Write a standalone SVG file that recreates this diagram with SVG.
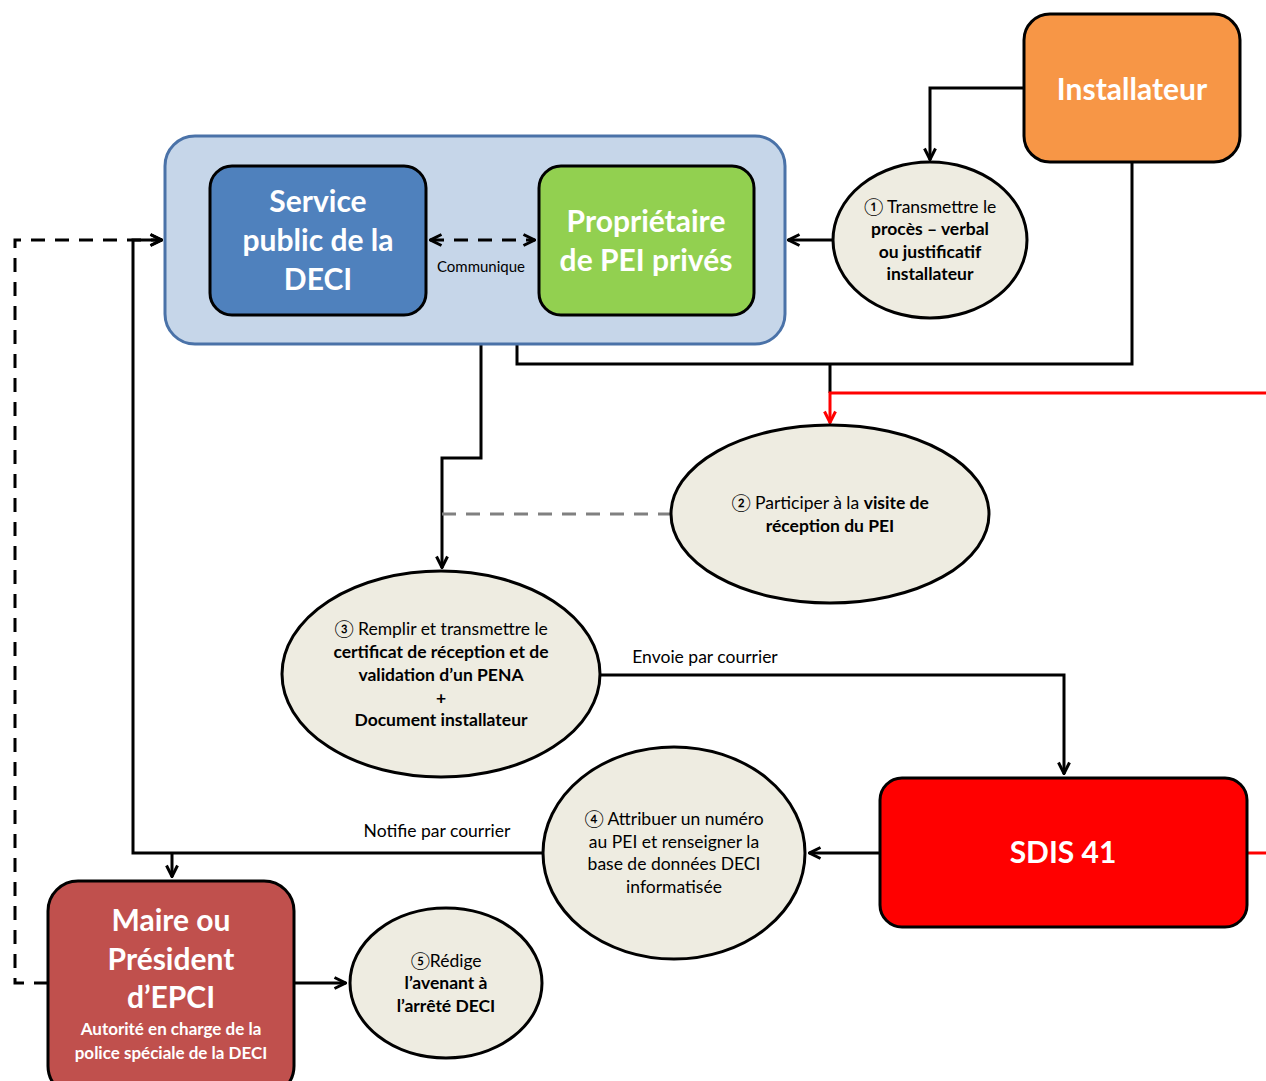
<svg xmlns="http://www.w3.org/2000/svg" width="1266" height="1081" viewBox="0 0 1266 1081">
<defs>
<marker id="ah" viewBox="0 0 14 14" refX="13" refY="7" markerWidth="14" markerHeight="14" markerUnits="userSpaceOnUse" orient="auto">
<path d="M1.5,1.5 L12.5,7 L1.5,12.5" fill="none" stroke="#000" stroke-width="3"/>
</marker>
<marker id="ahs" viewBox="0 0 14 14" refX="1" refY="7" markerWidth="14" markerHeight="14" markerUnits="userSpaceOnUse" orient="auto">
<path d="M12.5,1.5 L1.5,7 L12.5,12.5" fill="none" stroke="#000" stroke-width="3"/>
</marker>
<marker id="ahr" viewBox="0 0 14 14" refX="13" refY="7" markerWidth="14" markerHeight="14" markerUnits="userSpaceOnUse" orient="auto">
<path d="M1.5,1.5 L12.5,7 L1.5,12.5" fill="none" stroke="#ff0000" stroke-width="3"/>
</marker>
</defs>
<style>
text{font-family:Lato,"Open Sans","Liberation Sans",sans-serif;text-anchor:middle}
.t{fill:#fff;font-weight:bold;font-size:30px}
.s{fill:#fff;font-weight:bold;font-size:17px}
.e{fill:#000;font-size:17.5px}
.b{font-weight:bold}
.lbl{fill:#000;font-size:17.5px}
.box{stroke:#000;stroke-width:3}
.ell{fill:#eeece1;stroke:#000;stroke-width:3}
.c{fill:none;stroke:#000;stroke-width:3}
.cd{fill:none;stroke:#000;stroke-width:3;stroke-dasharray:14,10}
.cr{fill:none;stroke:#ff0000;stroke-width:3}
</style>
<rect width="1266" height="1081" fill="#fff"/>

<g id="connectors">
<path class="c" d="M1024,88 H930 V160" marker-end="url(#ah)"/>
<path class="c" d="M1132,162 V364 H517 V344"/>
<path class="c" d="M830,364 V393"/>
<path class="cr" d="M1266,393 H830 V423" marker-end="url(#ahr)"/>
<path class="c" d="M833,240 H788" marker-end="url(#ah)"/>
<path class="c" d="M481,344 V458 H442 V568" marker-end="url(#ah)"/>
<path d="M442,514 H672" fill="none" stroke="#808080" stroke-width="3" stroke-dasharray="14,10"/>
<path class="c" d="M600,675 H1064 V774" marker-end="url(#ah)"/>
<path class="c" d="M880,853 H809" marker-end="url(#ah)"/>
<path class="c" d="M543,853 H133 V240 H162" marker-end="url(#ah)"/>
<path class="c" d="M172,853 V877" marker-end="url(#ah)"/>
<path class="cd" d="M48,983 H15 V240 H162" marker-end="url(#ah)"/>
<path class="c" d="M294,983 H346" marker-end="url(#ah)"/>
<path class="cr" d="M1247,853 H1266"/>
<text class="lbl" x="705" y="663">Envoie par courrier</text>
<text class="lbl" x="437" y="837">Notifie par courrier</text>
</g>

<g id="container">
<rect x="165" y="136" width="620" height="208" rx="30" fill="#c6d6e9" stroke="#4a72a8" stroke-width="3"/>
</g>

<g id="communique">
<path class="cd" d="M430,240 H535" marker-start="url(#ahs)" marker-end="url(#ah)"/>
<text x="481" y="272" style="font-size:15px;fill:#000">Communique</text>
</g>

<g id="service">
<rect class="box" x="210" y="166" width="216" height="149" rx="22" fill="#4f81bd"/>
<text class="t" x="318" y="212">Service</text>
<text class="t" x="318" y="251">public de la</text>
<text class="t" x="318" y="290">DECI</text>
</g>

<g id="proprietaire">
<rect class="box" x="539" y="166" width="215" height="149" rx="22" fill="#92d050"/>
<text class="t" x="646" y="232">Propriétaire</text>
<text class="t" x="646" y="271">de PEI privés</text>
</g>

<g id="installateur">
<rect class="box" x="1024" y="14" width="216" height="148" rx="26" fill="#f79646"/>
<text class="t" x="1132" y="100">Installateur</text>
</g>

<g id="etape1">
<ellipse class="ell" cx="930" cy="240" rx="97" ry="78"/>
<text class="e" x="930" y="213">① Transmettre le</text>
<text class="e b" x="930" y="235">procès – verbal</text>
<text class="e b" x="930" y="258">ou justificatif</text>
<text class="e b" x="930" y="280">installateur</text>
</g>

<g id="etape2">
<ellipse class="ell" cx="830" cy="514" rx="159" ry="89"/>
<text class="e" x="830" y="509">② Participer à la <tspan class="b">visite de</tspan></text>
<text class="e b" x="830" y="532">réception du PEI</text>
</g>

<g id="etape3">
<ellipse class="ell" cx="441" cy="674" rx="159" ry="103"/>
<text class="e" x="441" y="635">③ Remplir et transmettre le</text>
<text class="e b" x="441" y="658">certificat de réception et de</text>
<text class="e b" x="441" y="681">validation d’un PENA</text>
<text class="e b" x="441" y="704">+</text>
<text class="e b" x="441" y="726">Document installateur</text>
</g>

<g id="etape4">
<ellipse class="ell" cx="674" cy="853" rx="131" ry="106"/>
<text class="e" x="674" y="825">④ Attribuer un numéro</text>
<text class="e" x="674" y="848">au PEI et renseigner la</text>
<text class="e" x="674" y="870">base de données DECI</text>
<text class="e" x="674" y="893">informatisée</text>
</g>

<g id="etape5">
<ellipse class="ell" cx="446" cy="983" rx="96" ry="75"/>
<text class="e" x="446" y="967">⑤Rédige</text>
<text class="e b" x="446" y="989">l’avenant à</text>
<text class="e b" x="446" y="1012">l’arrêté DECI</text>
</g>

<g id="sdis">
<rect class="box" x="880" y="778" width="367" height="149" rx="22" fill="#ff0000"/>
<text class="t" x="1063" y="863">SDIS 41</text>
</g>

<g id="maire">
<rect class="box" x="48" y="881" width="246" height="215" rx="30" fill="#c0504d"/>
<text class="t" x="171" y="931">Maire ou</text>
<text class="t" x="171" y="970">Président</text>
<text class="t" x="171" y="1008">d’EPCI</text>
<text class="s" x="171" y="1035">Autorité en charge de la</text>
<text class="s" x="171" y="1059">police spéciale de la DECI</text>
</g>
</svg>
